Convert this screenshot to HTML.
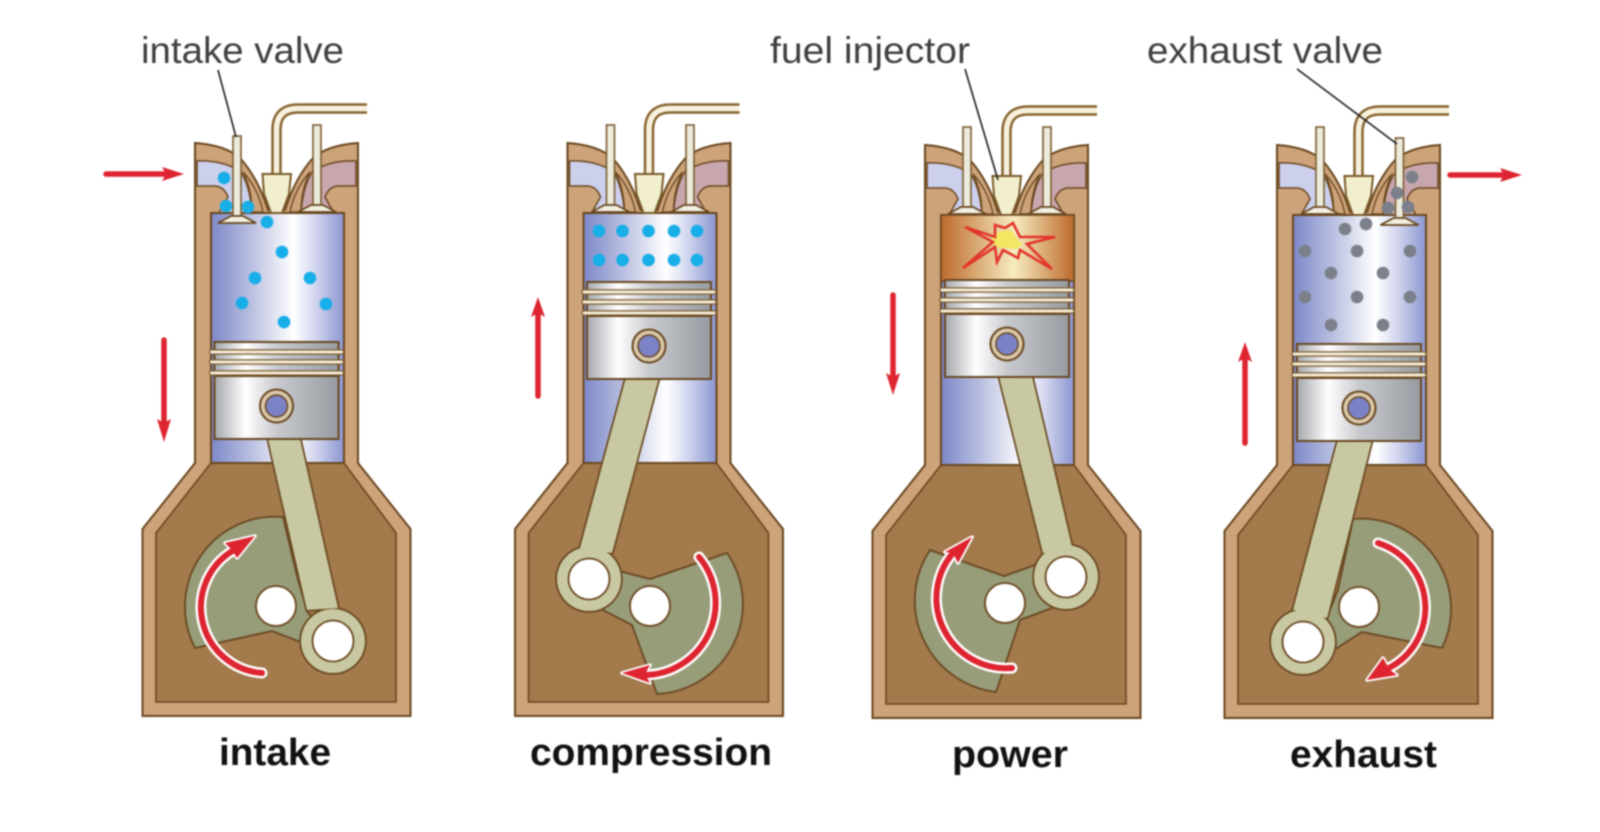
<!DOCTYPE html>
<html><head><meta charset="utf-8"><title>Four-stroke engine</title>
<style>html,body{margin:0;padding:0;background:#fff}svg{display:block;filter:blur(.7px)}
text{font-family:"Liberation Sans",sans-serif}
.l{font-size:37px;fill:#3f3f3f}.b{font-size:38px;font-weight:bold;fill:#111}</style></head>
<body>
<svg width="1600" height="832" viewBox="0 0 1600 832" xmlns="http://www.w3.org/2000/svg">
<defs>
<linearGradient id="cy" x1="0" x2="1" y1="0" y2="0"><stop offset="0" stop-color="#7c88c8"/><stop offset=".3" stop-color="#b9bfe0"/><stop offset=".62" stop-color="#fff"/><stop offset=".8" stop-color="#cdd1ec"/><stop offset="1" stop-color="#8a95d0"/></linearGradient>
<linearGradient id="pg" x1="0" x2="1" y1="0" y2="0"><stop offset="0" stop-color="#a4a7ac"/><stop offset=".25" stop-color="#fff"/><stop offset=".5" stop-color="#c8cace"/><stop offset="1" stop-color="#979ba1"/></linearGradient>
<linearGradient id="fi" x1="0" x2="1" y1="0" y2="0"><stop offset="0" stop-color="#bd6a2c"/><stop offset=".55" stop-color="#f7ecc0"/><stop offset="1" stop-color="#bd6a2c"/></linearGradient>
<g id="rods">
<path d="M266,430 H298 L338,608 L307,610 Z"/><circle cx="333" cy="641" r="32"/>
<path d="M628,370 H661 L612,553 L580,548 Z"/><circle cx="589" cy="579" r="32"/>
<path d="M997,368 H1030 L1072,547 L1043,553 Z"/><circle cx="1066" cy="577" r="32"/>
<path d="M1340,432 H1374 L1327,618 L1293,610 Z"/><circle cx="1303" cy="642" r="32"/>
</g>
<g id="base">
<path d="M195,143 Q225,145 240,158 Q258,178 268,210 L285,210 Q295,178 313,158 Q328,145 358,143 V463 L410.5,529 V716 H142.5 V529 L195,463 Z" fill="#cda37a" stroke="#69471f" stroke-width="2"/>
<path d="M211,463 H344 L396,533 V702 H156 V533 Z" fill="#a27a4c" stroke="#69471f" stroke-width="1.6"/>
<path d="M197,161 Q222,160 240,171 Q250,185 252,213 L219,213 L228,197 Q224,186 214,186 L197,186 Z" fill="#ccd0ec" stroke="#69471f" stroke-width="1.5"/>
<path d="M243,172 Q258,188 263,212 L252,212 Q252,190 243,172 Z" fill="#cda37a" stroke="#69471f" stroke-width="1.3"/>
<g transform="translate(553,0) scale(-1,1)">
<path d="M197,161 Q222,160 240,171 Q250,185 252,213 L219,213 L228,197 Q224,186 214,186 L197,186 Z" fill="#c8a6ae" stroke="#69471f" stroke-width="1.5"/>
<path d="M243,172 Q258,188 263,212 L252,212 Q252,190 243,172 Z" fill="#cda37a" stroke="#69471f" stroke-width="1.3"/>
</g>
<rect x="211" y="213" width="133" height="250" fill="url(#cy)" stroke="#69471f" stroke-width="2"/>
<path d="M276.5,176 V130 Q276.5,108.5 298,108.5 H367" fill="none" stroke="#866430" stroke-width="10.5"/>
<path d="M276.5,176 V130 Q276.5,108.5 298,108.5 H367" fill="none" stroke="#f7f2de" stroke-width="5.5"/>
<path d="M262.5,174 H291 L289,194 L282,213 H271 L264,194 Z" fill="#f2efcf" stroke="#7a5a2a" stroke-width="2"/>
</g>
<g id="valve">
<rect x="-4" y="0" width="8" height="81" fill="#ecebdc" stroke="#7a5c30" stroke-width="1.6"/>
<path d="M-6,80 H6 L19,87 H-19 Z" fill="#f1efe2" stroke="#69471f" stroke-width="1.8"/>
</g>
<g id="piston">
<rect x="-62" y="0" width="124" height="34" fill="url(#pg)" stroke="#69471f" stroke-width="2"/>
<g fill="none" stroke-linecap="round">
<path d="M-65,10 H65 M-65,20 H65 M-65,31 H65" stroke="#7b5c30" stroke-width="5.5"/>
<path d="M-65,10 H65 M-65,20 H65 M-65,31 H65" stroke="#f3ead6" stroke-width="3"/>
</g>
<rect x="-62" y="34" width="124" height="63" fill="url(#pg)" stroke="#69471f" stroke-width="2"/>
<circle cx="0" cy="64" r="16.5" fill="#d8c8ab" stroke="#69471f" stroke-width="2"/>
<circle cx="0" cy="64" r="11" fill="#7b82c6" stroke="#69471f" stroke-width="1.5"/>
</g>
</defs>

<rect width="1600" height="832" fill="#fff"/>

<use href="#base"/>
<use href="#base" x="372.5"/>
<use href="#base" x="730" y="2"/>
<use href="#base" x="1082" y="2"/>

<!-- combustion -->
<rect x="941" y="215" width="133" height="66" fill="url(#fi)" stroke="#69471f" stroke-width="1.5"/>
<path d="M997,233 L1005,230 L1012,231 L1018,240 L1022,245 L1016,249 L1004,248 L996,247 L990,240 Z" fill="#f2e763"/>
<path d="M965,227 L995,237 L995,225 L1005,228 L1013,223 L1020,237 L1055,237 L1027,244 L1052,269 L1020,250 L1018,258 L1003,250 L997,262 L995,247 L963,268 L993,242 Z" fill="none" stroke="#e2352b" stroke-width="2.6" stroke-linejoin="miter"/>

<!-- sectors -->
<g fill="#979c79" stroke="#69471f" stroke-width="1.8">
<path d="M283,517 A90,90 0 0 0 195,648 L272,631 L303,643 L340,640 L308,613 L298,580 Z"/>
<path d="M727,553 A90,90 0 0 1 657,694 L632,625 L603,610 L589,579 L623,572 L650,579 Z"/>
<path d="M930,550 A92,92 0 0 0 996,692 L1020,620 L1052,608 L1066,577 L1035,565 L1004,576 Z"/>
<path d="M1353,519 A90,90 0 0 1 1442,648 L1362,632 L1337,648 L1303,642 L1327,617 L1338,590 Z"/>
</g>

<!-- crank holes -->
<g fill="#fff" stroke="#69471f" stroke-width="1.8">
<circle cx="276" cy="606" r="20"/><circle cx="650" cy="606" r="20"/><circle cx="1005" cy="603" r="20"/><circle cx="1359" cy="607" r="20"/>
</g>

<!-- rods: outline pass then fill pass so the shaft merges with the big end -->
<use href="#rods" fill="#69471f" stroke="#69471f" stroke-width="3.4" stroke-linejoin="round"/>
<use href="#rods" fill="#c8c9a2"/>
<g fill="#fff" stroke="#69471f" stroke-width="1.8">
<circle cx="333" cy="641" r="20.5"/><circle cx="589" cy="579" r="20.5"/><circle cx="1066" cy="577" r="20.5"/><circle cx="1303" cy="642" r="20.5"/>
</g>

<!-- pistons -->
<use href="#piston" x="276.5" y="342"/>
<use href="#piston" x="649" y="282"/>
<use href="#piston" x="1007" y="280"/>
<use href="#piston" x="1359" y="344"/>

<!-- valves -->
<use href="#valve" x="237" y="136"/>
<use href="#valve" x="317" y="125"/>
<use href="#valve" x="610.5" y="125"/>
<use href="#valve" x="690" y="125"/>
<use href="#valve" x="967" y="127"/>
<use href="#valve" x="1047" y="127"/>
<use href="#valve" x="1320" y="127"/>
<use href="#valve" x="1399.5" y="138"/>

<!-- fuel dots -->
<g fill="#18aee8">
<circle cx="224" cy="178" r="6.3"/><circle cx="226" cy="206" r="6.3"/><circle cx="248" cy="207" r="6.3"/><circle cx="267" cy="222" r="6.3"/><circle cx="282" cy="252" r="6.3"/><circle cx="255" cy="278" r="6.3"/><circle cx="310" cy="278" r="6.3"/><circle cx="242" cy="303" r="6.3"/><circle cx="326" cy="304" r="6.3"/><circle cx="284" cy="322" r="6.3"/>
<circle cx="599" cy="231" r="6.3"/><circle cx="622.5" cy="231" r="6.3"/><circle cx="648.5" cy="231" r="6.3"/><circle cx="674" cy="231" r="6.3"/><circle cx="697" cy="231" r="6.3"/>
<circle cx="599" cy="260" r="6.3"/><circle cx="622.5" cy="260" r="6.3"/><circle cx="648.5" cy="260" r="6.3"/><circle cx="674" cy="260" r="6.3"/><circle cx="697" cy="260" r="6.3"/>
</g>
<!-- exhaust dots -->
<g fill="#7b808a">
<circle cx="1412" cy="177" r="6.3"/><circle cx="1397" cy="193" r="6.3"/><circle cx="1388" cy="208" r="6.3"/><circle cx="1408" cy="207" r="6.3"/><circle cx="1366" cy="224" r="6.3"/><circle cx="1345" cy="229" r="6.3"/><circle cx="1305" cy="251" r="6.3"/><circle cx="1357" cy="251" r="6.3"/><circle cx="1410" cy="251" r="6.3"/><circle cx="1331" cy="273" r="6.3"/><circle cx="1383" cy="273" r="6.3"/><circle cx="1305" cy="297" r="6.3"/><circle cx="1357" cy="297" r="6.3"/><circle cx="1410" cy="297" r="6.3"/><circle cx="1331" cy="325" r="6.3"/><circle cx="1383" cy="325" r="6.3"/>
</g>

<!-- rotation arrows -->
<g fill="none" stroke="#fff" stroke-width="11" stroke-linecap="round">
<path d="M262,673 A66,66 0 0 1 234,550"/><path d="M699,557 A72,72 0 0 1 645,675"/><path d="M1012,668 A70,70 0 0 1 953,553"/><path d="M1378,543 A68,68 0 0 1 1389,668"/>
</g>
<g fill="#fff" stroke="#fff" stroke-width="3.5" stroke-linejoin="round">
<path d="M255,536 L225,543 L232,550 L237,558 Z"/><path d="M622,673 L650,665 L645,674 L650,683 Z"/><path d="M972,537 L945,552 L953,553 L958,563 Z"/><path d="M1367,680 L1383,658 L1390,670 L1397,675 Z"/>
</g>
<g fill="none" stroke="#dd2430" stroke-width="6" stroke-linecap="round">
<path d="M262,673 A66,66 0 0 1 234,550"/><path d="M699,557 A72,72 0 0 1 645,675"/><path d="M1012,668 A70,70 0 0 1 953,553"/><path d="M1378,543 A68,68 0 0 1 1389,668"/>
</g>
<g fill="#dd2430">
<path d="M255,536 L225,543 L232,550 L237,558 Z"/><path d="M622,673 L650,665 L645,674 L650,683 Z"/><path d="M972,537 L945,552 L953,553 L958,563 Z"/><path d="M1367,680 L1383,658 L1390,670 L1397,675 Z"/>
</g>

<!-- motion arrows -->
<g stroke="#dd2430" stroke-width="5.5" stroke-linecap="round" fill="none">
<path d="M106,174 H168"/><path d="M164,340 V425"/><path d="M538,396 V312"/><path d="M893,295 V378"/><path d="M1245,443 V358"/><path d="M1450,175 H1505"/>
</g>
<g fill="#dd2430">
<path d="M184,174 L162,167 L166,174 L162,181 Z"/>
<path d="M164,442 L157,419 L164,423 L171,419 Z"/>
<path d="M538,297 L531,317 L538,313 L545,317 Z"/>
<path d="M893,395 L886,373 L893,377 L900,373 Z"/>
<path d="M1245,342 L1238,362 L1245,358 L1252,362 Z"/>
<path d="M1522,175 L1500,168 L1504,175 L1500,182 Z"/>
</g>

<!-- leader lines -->
<g stroke="#1d1d1d" stroke-width="1.6" fill="none">
<path d="M218,70 L236,137"/><path d="M965,69 L998,180"/><path d="M1297,69 L1397,144"/>
</g>

<!-- labels -->
<text class="l" x="141" y="63" textLength="203" lengthAdjust="spacingAndGlyphs">intake valve</text>
<text class="l" x="770" y="63" textLength="200" lengthAdjust="spacingAndGlyphs">fuel injector</text>
<text class="l" x="1147" y="63" textLength="236" lengthAdjust="spacingAndGlyphs">exhaust valve</text>
<text class="b" x="219" y="765" textLength="112" lengthAdjust="spacingAndGlyphs">intake</text>
<text class="b" x="530" y="765" textLength="242" lengthAdjust="spacingAndGlyphs">compression</text>
<text class="b" x="952" y="767" textLength="116" lengthAdjust="spacingAndGlyphs">power</text>
<text class="b" x="1290" y="767" textLength="147" lengthAdjust="spacingAndGlyphs">exhaust</text>
</svg>
</body></html>
